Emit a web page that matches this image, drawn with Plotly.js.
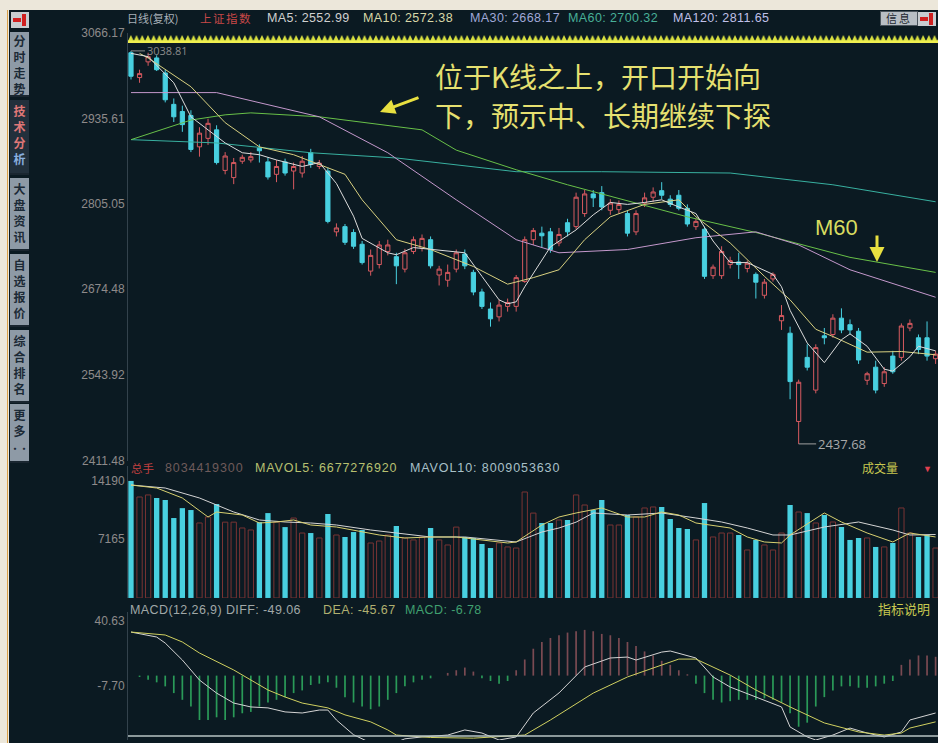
<!DOCTYPE html>
<html><head><meta charset="utf-8">
<script src="https://cdn.plot.ly/plotly-3.0.1.min.js"></script>
<style>
body{margin:0;width:938px;height:743px;overflow:hidden;position:relative;background:#ece7da;font-family:"Liberation Sans",Arial,sans-serif;}
#panel{position:absolute;left:9px;top:10px;width:929px;height:733px;background:#0b1a22;}
#chart{position:absolute;left:0;top:0;width:938px;height:743px;z-index:2;}
.t{position:absolute;font-size:12.5px;line-height:14px;white-space:nowrap;z-index:3;letter-spacing:0.4px;}
.v{position:absolute;font-size:12.5px;line-height:14px;white-space:nowrap;z-index:3;letter-spacing:0.9px;}
.tab{position:absolute;left:10px;width:19px;background:#8e9aa6;color:#1c2a36;font-family:"Noto Sans CJK SC";font-weight:bold;font-size:12px;line-height:16px;text-align:center;z-index:3;border-bottom:2px solid #1a2630;overflow:hidden;}
</style></head>
<body>
<div id="panel"></div>
<div style="position:absolute;left:7px;top:10px;width:1px;height:733px;background:#d9a048;"></div>
<div id="chart"></div>
<svg style="position:absolute;left:128px;top:34px;z-index:3" width="810" height="10">
 <defs><pattern id="zz" x="0" y="0" width="5.7" height="10" patternUnits="userSpaceOnUse">
  <polygon points="0,7 2.85,1 5.7,7" fill="#d8e040"/></pattern></defs>
 <rect x="0" y="0" width="810" height="7" fill="url(#zz)"/>
 <rect x="0" y="6.5" width="810" height="2.5" fill="#f0f050"/>
</svg>
<!-- header -->
<span class="t" style="left:127px;top:11px;color:#a8b0b8;font-family:'Noto Sans CJK SC';font-size:11px;letter-spacing:0">日线(复权)</span>
<span class="t" style="left:200px;top:11px;color:#c84848;font-family:'Noto Sans CJK SC';font-size:11.5px;letter-spacing:1.5px">上证指数</span>
<span class="t" style="left:267px;top:11px;color:#d0d0d0">MA5: 2552.99</span>
<span class="t" style="left:363px;top:11px;color:#d8d8a8">MA10: 2572.38</span>
<span class="t" style="left:470px;top:11px;color:#a0a8d8">MA30: 2668.17</span>
<span class="t" style="left:568px;top:11px;color:#48b098">MA60: 2700.32</span>
<span class="t" style="left:673px;top:11px;color:#c0c0e8">MA120: 2811.65</span>
<span class="t" style="left:880px;top:11px;background:#b8bec4;color:#1c2630;border:1px solid #4a545c;font-family:'Noto Sans CJK SC';font-size:11px;line-height:13px;padding:0 5px;letter-spacing:2px">信息</span>
<div style="position:absolute;left:918px;top:12px;width:18px;height:14px;background:#c8ccd0;z-index:3"><div style="position:absolute;left:11px;top:1px;width:4px;height:12px;background:#d02020"></div><div style="position:absolute;left:2px;top:5px;width:8px;height:4px;background:#d02020"></div></div>
<div style="position:absolute;left:11px;top:12px;width:18px;height:16px;background:#c8ccd0;z-index:3"><div style="position:absolute;left:11px;top:2px;width:4px;height:12px;background:#d02020"></div><div style="position:absolute;left:2px;top:6px;width:8px;height:4px;background:#d02020"></div></div>
<!-- sidebar -->
<div class="tab" style="top:32px;height:62px;padding-top:1px">分<br>时<br>走<br>势</div>
<div class="tab" style="top:100px;height:70px;background:#22303c;padding-top:3px"><span style="color:#e07878">技<br>术<br>分</span><br><span style="color:#8ab0e0">析</span></div>
<div class="tab" style="top:178px;height:68px;padding-top:3px">大<br>盘<br>资<br>讯</div>
<div class="tab" style="top:254px;height:68px;padding-top:3px">自<br>选<br>报<br>价</div>
<div class="tab" style="top:330px;height:68px;padding-top:3px">综<br>合<br>排<br>名</div>
<div class="tab" style="top:404px;height:54px;padding-top:3px">更<br>多<br><span style="font-size:9px">··</span></div>
<!-- volume header -->
<span class="v" style="left:131px;top:461px;color:#c04040;font-family:'Noto Sans CJK SC';font-size:11.5px;letter-spacing:0">总手</span>
<span class="v" style="left:165px;top:461px;color:#6e5a5a">8034419300</span>
<span class="v" style="left:255px;top:461px;color:#b8c070">MAVOL5: 6677276920</span>
<span class="v" style="left:410px;top:461px;color:#a8c0c8">MAVOL10: 8009053630</span>
<span class="v" style="left:862px;top:461px;color:#c8c850;font-family:'Noto Sans CJK SC';font-size:12px;letter-spacing:0">成交量</span>
<span class="v" style="left:923px;top:462px;color:#e04050;font-size:9px">▼</span>
<!-- macd header -->
<span class="v" style="left:130px;top:603px;color:#a0a8a8;letter-spacing:0.4px">MACD(12,26,9) DIFF: -49.06</span>
<span class="v" style="left:323px;top:603px;color:#b0b070;letter-spacing:0.4px">DEA: -45.67</span>
<span class="v" style="left:405px;top:603px;color:#40a070;letter-spacing:0.4px">MACD: -6.78</span>
<span class="v" style="left:878px;top:602px;color:#c8c850;font-family:'Noto Sans CJK SC';font-size:13px;letter-spacing:0">指标说明</span>
<script>
// ---------- data ----------
const candleIdx = Array.from({length:95},(_,i)=>i);
const opens = [3036,2998,3022,3028,3005,2957,2946,2940,2892,2905,2918,2856,2845,2870,2872,2890,2869,2850,2869,2855,2852,2883,2862,2855,2762,2770,2761,2743,2702,2712,2732,2724,2705,2732,2737,2750,2696,2688,2705,2728,2700,2670,2644,2632,2648,2648,2686,2750,2760,2762,2745,2776,2770,2790,2820,2822,2795,2796,2790,2762,2806,2815,2825,2812,2818,2798,2770,2766,2695,2695,2712,2716,2706,2697,2665,2690,2626,2607,2472,2570,2520,2603,2605,2630,2620,2610,2535,2555,2530,2572,2570,2615,2600,2600,2568];
const highs = [3038.81,3010,3036,3032,3010,2966,2955,2948,2922,2935,2925,2884,2875,2880,2884,2896,2876,2872,2874,2868,2878,2889,2872,2860,2775,2774,2766,2748,2735,2748,2750,2730,2736,2755,2758,2755,2710,2712,2735,2735,2704,2675,2654,2658,2660,2696,2755,2768,2770,2768,2768,2782,2822,2826,2826,2832,2812,2810,2794,2795,2822,2830,2838,2818,2826,2804,2782,2770,2712,2740,2724,2730,2718,2700,2690,2700,2650,2617,2536,2590,2590,2615,2636,2645,2628,2615,2548,2565,2555,2580,2622,2628,2605,2625,2580];
const lows = [2995,2990,3016,3008,2960,2930,2915,2884,2877,2895,2865,2850,2835,2866,2868,2868,2842,2838,2848,2827,2845,2860,2858,2775,2755,2742,2736,2712,2695,2706,2726,2682,2700,2728,2732,2706,2680,2678,2700,2705,2665,2644,2617,2625,2640,2640,2684,2742,2738,2730,2740,2755,2766,2785,2800,2795,2788,2790,2755,2757,2800,2808,2812,2800,2795,2770,2765,2690,2690,2690,2706,2690,2700,2660,2660,2686,2612,2506,2437.68,2550,2515,2590,2600,2607,2605,2560,2528,2515,2525,2545,2565,2610,2575,2565,2560];
const closes = [3000,3004,3030,3010,2964,2938,2926,2888,2913,2928,2868,2878,2868,2876,2877,2886,2846,2862,2852,2862,2870,2865,2867,2778,2768,2746,2740,2715,2726,2742,2742,2710,2730,2750,2752,2710,2705,2700,2730,2710,2670,2648,2629,2650,2654,2692,2750,2764,2756,2735,2758,2762,2815,2820,2814,2800,2806,2804,2760,2790,2814,2823,2818,2804,2798,2774,2778,2694,2708,2732,2718,2712,2714,2685,2685,2697,2634,2533,2532,2555,2585,2600,2630,2612,2612,2566,2545,2520,2548,2548,2618,2622,2582,2572,2575];

const ma5Idx = [0,2,5,7,9,11,13,15,17,20,22,24,26,27,30,31,33,36,39,41,43,44,45,46,49,52,54,56,58,60,62,64,66,68,70,72,75,76,77,79,81,83,84,86,88,89,91,92,94];
const ma5Val = [3035,3030,2990,2938,2918,2898,2883,2880,2872,2862,2868,2836,2786,2752,2730,2727,2738,2734,2730,2694,2658,2652,2655,2678,2739,2765,2788,2807,2804,2807,2811,2800,2790,2748,2715,2715,2697,2678,2642,2592,2562,2597,2606,2587,2552,2549,2571,2587,2580];
const ma10Idx = [1,2,7,11,15,19,23,25,27,31,35,40,44,47,50,53,56,60,64,66,70,74,77,80,82,86,90,94];
const ma10Val = [3035,3028,2984,2929,2892,2880,2860,2850,2811,2750,2735,2709,2682,2692,2704,2750,2785,2804,2811,2785,2745,2694,2658,2613,2602,2578,2579,2574];
const ma30Idx = [0,10,22,30,38,45,50,58,66,73,78,84,94];
const ma30Val = [2975,2975,2938,2883,2811,2750,2730,2735,2753,2762,2742,2704,2662];
const ma60Idx = [0,7,11,14,22,34,38,45,51,65,73,84,94];
const ma60Val = [2903,2933,2941,2944,2938,2918,2887,2857,2834,2785,2761,2723,2700];
const ma120Idx = [0,10,21,31,45,55,70,82,94];
const ma120Val = [2903,2898,2883,2875,2854,2854,2852,2834,2808];

const volumes = [14200,12250,12500,12130,11890,9700,10900,10670,9100,9830,11400,9200,9200,8490,8250,9200,10300,9200,8600,9700,7880,7880,7280,10190,7640,7400,8000,8250,6670,6910,7640,8730,7280,7040,7400,8490,7040,6430,8600,7400,7280,6550,6060,6670,6190,6060,12860,10300,9100,9100,9460,9460,12500,11280,10670,11890,8850,8850,10070,9830,10920,11040,11040,9580,8490,8370,7040,11520,7400,7880,7880,7640,5820,7040,6430,5820,7880,11280,10430,10300,9100,10070,9220,8610,7040,7280,7280,6190,6190,6670,10920,7880,7400,7640,6060];
const mavol5Idx = [0,3,6,9,10,13,15,17,19,21,24,26,29,32,35,38,41,44,45,48,50,52,55,58,60,62,64,66,70,72,74,76,77,81,83,86,89,91,94];
const mavol5Val = [13707,13343,12130,9825,10432,10068,9098,9219,9461,8855,8612,8248,7642,7278,7399,7399,7035,6672,6793,8855,9825,10311,10917,9825,9825,10432,10068,9098,8491,7399,6793,6672,7642,10311,9219,7885,6793,7885,7400];
const mavol10Idx = [0,4,8,12,15,18,21,24,28,31,35,39,43,45,48,50,52,54,58,62,66,69,72,75,77,81,85,89,91,94];
const mavol10Val = [13707,13343,12130,10432,9461,9219,9098,8855,8248,7885,7399,7399,7035,6793,8000,8491,9200,10311,10068,10311,9704,9219,8491,7642,7642,8612,9219,8248,7642,7700];

const diffIdx = [0,3,4,6,8,10,12,14,16,18,20,22,23,24,26,28,30,32,34,37,39,41,43,45,47,50,53,56,58,59,62,63,66,68,70,73,76,77,79,80,82,84,86,88,90,91,94];
const diffVal = [32.4,28.7,24.2,11.6,-3.3,-13,-20.4,-23.3,-24,-27,-27.8,-25.6,-25.6,-33,-44,-50,-52,-47,-45.6,-44.2,-40.4,-42.7,-47.9,-45.6,-27.8,-12.9,6.4,13.1,13.8,11.6,17.5,18.3,13.1,-1,-8.5,-15.9,-23.3,-38.2,-45.6,-47.9,-44.2,-39,-42.7,-45.6,-41.9,-33,-27.8];
const deaIdx = [0,4,6,8,12,14,16,18,20,23,25,28,30,31,35,40,46,49,51,54,58,62,64,66,68,70,73,77,81,85,88,90,91,94];
const deaVal = [32.4,30.2,25,16.8,4.2,-3.3,-10.7,-15.9,-20.4,-24,-29.2,-34.4,-40.4,-44.2,-46,-46.5,-44.2,-33,-25,-13,-1,7.9,12.3,12.3,6.4,0.4,-10.7,-23.3,-35.2,-41.9,-44.2,-42.7,-39,-34.4];
const macdHist = [0,-1,-3,-5,-8,-13,-18,-23,-33,-33,-31,-33,-31,-28,-27,-23,-20,-18,-16,-13,-11,-7,-6,-5,-9,-16,-20,-23,-25,-23,-18,-13,-8,-5,-3,-2,0,2,4,6,3,-2,-4,-6,-4,4,12,20,25,28,30,32,33,34,33,31,30,28,25,22,18,15,11,8,4,1,-6,-13,-18,-20,-19,-18,-18,-18,-17,-18,-20,-28,-38,-35,-23,-16,-11,-8,-8,-9,-9,-8,-6,-4,8,12,15,15,14];

const priceTicks = [3066.17,2935.61,2805.05,2674.48,2543.92,2411.48];
const volTicks = [14190,7165];
const macdTicks = [40.63,-7.70];
const macdTickText = ['40.63','-7.70'];

// ---------- style ----------
const BG='#0b1a22', UP='#d85a60', DOWN='#48d0e0';
const isUp = closes.map((c,i)=>c>=opens[i]);
const line=(x,y,c,ax)=>({type:'scatter',mode:'lines',x:x,y:y,yaxis:ax,line:{color:c,width:1},hoverinfo:'skip'});

const traces = [
 line(ma120Idx,ma120Val,'#38b0a0','y'),
 line(ma60Idx,ma60Val,'#68c048','y'),
 line(ma30Idx,ma30Val,'#c498cc','y'),
 line(ma10Idx,ma10Val,'#d8d080','y'),
 line(ma5Idx,ma5Val,'#dcdcdc','y'),
 {type:'candlestick',x:candleIdx,open:opens,high:highs,low:lows,close:closes,yaxis:'y',
  increasing:{line:{color:UP,width:1},fillcolor:BG},
  decreasing:{line:{color:DOWN,width:1},fillcolor:DOWN},whiskerwidth:0,hoverinfo:'skip'},
 {type:'bar',x:candleIdx,y:volumes,yaxis:'y2',width:0.62,
  marker:{color:isUp.map(u=>u?BG:DOWN),line:{color:isUp.map(u=>u?'#7a3434':DOWN),width:isUp.map(u=>u?1:0)}},hoverinfo:'skip'},
 line(mavol10Idx,mavol10Val,'#d4d4d4','y2'),
 line(mavol5Idx,mavol5Val,'#d8d070','y2'),
 {type:'bar',x:candleIdx,y:macdHist,yaxis:'y3',width:0.2,
  marker:{color:macdHist.map(v=>v>=0?'#7a4a52':'#2a9a58'),line:{width:0}},hoverinfo:'skip'},
 line(diffIdx,diffVal,'#d4d4d4','y3'),
 line(deaIdx,deaVal,'#d0d060','y3')
];

const yax = {showgrid:false,zeroline:false,showline:true,linecolor:'#33424c',linewidth:1,ticks:'',
  tickfont:{size:12,color:'#8e8a8a',family:'Liberation Sans, Arial'},fixedrange:true};
const px=(x)=>(x-128)/810, py=(y)=>(743-y)/743;

const layout = {
 width:938,height:743,margin:{l:128,r:0,t:0,b:0},
 paper_bgcolor:'rgba(0,0,0,0)',plot_bgcolor:'rgba(0,0,0,0)',showlegend:false,barmode:'overlay',
 xaxis:{range:[-0.35,94.28],showticklabels:false,showgrid:false,zeroline:false,showline:false,ticks:'',anchor:'y3',rangeslider:{visible:false},fixedrange:true},
 yaxis:Object.assign({},yax,{domain:[0.3795,0.9556],range:[2411.48,3066.17],tickvals:priceTicks,ticktext:priceTicks.map(v=>v.toFixed(2))}),
 yaxis2:Object.assign({},yax,{domain:[0.1952,0.3728],range:[0,16012],tickvals:volTicks,ticktext:volTicks.map(String)}),
 yaxis3:Object.assign({},yax,{domain:[0.0040,0.1763],range:[-47.9,47.3],tickvals:macdTicks,ticktext:macdTickText}),
 shapes:[{type:'line',xref:'paper',yref:'paper',x0:0,x1:1,y0:py(736),y1:py(736),line:{color:'#b8c4c4',width:1.5}}],
 annotations:[
  {xref:'x',yref:'y',x:0,y:3038.81,text:'3038.81',ax:36,ay:0,showarrow:true,arrowhead:0,arrowcolor:'#8a8a8a',arrowwidth:1,font:{size:11,color:'#8a8a8a'}},
  {xref:'x',yref:'y',x:78,y:2437.68,text:'2437.68',ax:43,ay:0,showarrow:true,arrowhead:0,arrowcolor:'#a0a0a0',arrowwidth:1,font:{size:13,color:'#a8a8a8'}},
  {xref:'paper',yref:'paper',x:px(433),y:py(76),xanchor:'left',yanchor:'middle',showarrow:false,text:'位于K线之上，开口开始向',font:{family:'Noto Sans CJK SC',size:28,color:'#e6e070'}},
  {xref:'paper',yref:'paper',x:px(433),y:py(115),xanchor:'left',yanchor:'middle',showarrow:false,text:'下，预示中、长期继续下探',font:{family:'Noto Sans CJK SC',size:28,color:'#e6e070'}},
  {xref:'paper',yref:'paper',x:px(380),y:py(112),text:'',showarrow:true,ax:40,ay:-15,arrowhead:2,arrowsize:1,arrowwidth:3,arrowcolor:'#e8e040'},
  {xref:'paper',yref:'paper',x:px(860),y:py(213),showarrow:false,text:'M60',font:{family:'Liberation Sans, Arial',size:22,color:'#d8dc60'}},
  {xref:'paper',yref:'paper',x:px(877),y:py(262),text:'',showarrow:true,ax:0,ay:-28,arrowhead:2,arrowsize:1,arrowwidth:3,arrowcolor:'#e8e040'}
 ]
};
Plotly.newPlot('chart',traces,layout,{staticPlot:true,displayModeBar:false});
</script>
</body></html>
